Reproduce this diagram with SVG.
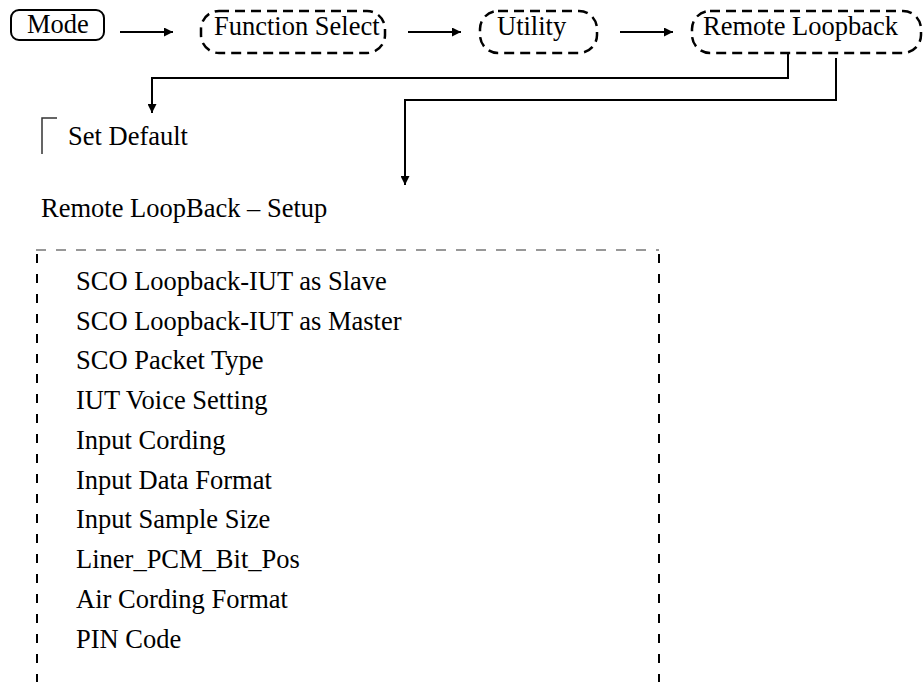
<svg xmlns="http://www.w3.org/2000/svg" width="924" height="682" viewBox="0 0 924 682">
<style>
text{font-family:"Liberation Serif","Times New Roman",serif;font-size:26.5px;fill:#000}
.node{fill:none;stroke:#000;stroke-width:2.5;stroke-dasharray:10 6}
.solid{fill:none;stroke:#000;stroke-width:2}
.conn{fill:none;stroke:#000;stroke-width:2}
</style>
<defs>
<marker id="ah" viewBox="0 0 10 10" refX="10" refY="5" markerWidth="10" markerHeight="9" markerUnits="userSpaceOnUse" orient="auto">
<path d="M0,0 L10,5 L0,10 z" fill="#000"/>
</marker>
</defs>
<g id="mode"><rect class="solid" x="11" y="10" width="93" height="30" rx="8"/><text x="27" y="33">Mode</text></g>
<g id="function-select"><rect class="node" x="201" y="11" width="184" height="42" rx="18"/><text x="214" y="35">Function Select</text></g>
<g id="utility"><rect class="node" x="480" y="11" width="117" height="42" rx="18"/><text x="497" y="35">Utility</text></g>
<g id="remote-loopback"><rect class="node" x="692" y="11" width="229" height="42" rx="18"/><text x="703" y="35">Remote Loopback</text></g>
<g id="set-default"><path d="M57,118 H42 V154" fill="none" stroke="#333" stroke-width="1.5"/><text x="68" y="145">Set Default</text></g>
<g id="setup-title"><text x="41" y="217">Remote LoopBack – Setup</text></g>
<g id="setup-box">
<path d="M36,250 H659" fill="none" stroke="#777" stroke-width="1.5" stroke-dasharray="10 10"/>
<path d="M37,254 V682" fill="none" stroke="#000" stroke-width="2" stroke-dasharray="9 11"/>
<path d="M659,254 V682" fill="none" stroke="#000" stroke-width="2" stroke-dasharray="9 11"/>
<text x="76" y="290">SCO Loopback-IUT as Slave</text>
<text x="76" y="330">SCO Loopback-IUT as Master</text>
<text x="76" y="369">SCO Packet Type</text>
<text x="76" y="409">IUT Voice Setting</text>
<text x="76" y="449">Input Cording</text>
<text x="76" y="489">Input Data Format</text>
<text x="76" y="528">Input Sample Size</text>
<text x="76" y="568">Liner_PCM_Bit_Pos</text>
<text x="76" y="608">Air Cording Format</text>
<text x="76" y="648">PIN Code</text>
</g>
<g id="connectors">
<path class="conn" d="M120,32 H173" marker-end="url(#ah)"/>
<path class="conn" d="M408,32 H461" marker-end="url(#ah)"/>
<path class="conn" d="M620,32 H673" marker-end="url(#ah)"/>
<path class="conn" d="M788,53 V78 H152 V113" marker-end="url(#ah)"/>
<path class="conn" d="M836,58 V100 H405 V185" marker-end="url(#ah)"/>
</g>
</svg>
